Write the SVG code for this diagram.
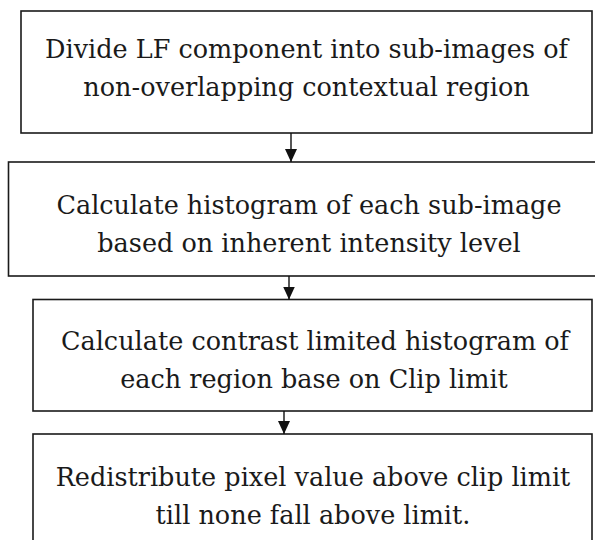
<svg xmlns="http://www.w3.org/2000/svg" width="595" height="540" viewBox="0 0 595 540">
<style>
.box{fill:#fff;stroke:#1a1a1a;stroke-width:1.6}
.t{font-family:"DejaVu Serif","Liberation Serif",serif;font-size:25.5px;fill:#1a1a1a;text-anchor:middle}
.c{stroke:#111;stroke-width:1.4;fill:none}
</style>
<defs>
<marker id="ah" markerWidth="13" markerHeight="12" refX="13" refY="6" orient="auto" markerUnits="userSpaceOnUse">
<path d="M0,0 L13,6 L0,12 Z" fill="#111"/>
</marker>
</defs>
<rect width="595" height="540" fill="#fff"/>
<g id="n1">
<rect class="box" x="21" y="11" width="571" height="122"/>
<text class="t" x="306.5" y="58">Divide LF component into sub-images of</text>
<text class="t" x="306.5" y="96">non-overlapping contextual region</text>
</g>
<g id="n2">
<rect class="box" x="8.5" y="162" width="600" height="114"/>
<text class="t" x="309" y="214">Calculate histogram of each sub-image</text>
<text class="t" x="309" y="252">based on inherent intensity level</text>
</g>
<g id="n3">
<rect class="box" x="33" y="299.5" width="559" height="111.5"/>
<text class="t" x="315" y="350">Calculate contrast limited histogram of</text>
<text class="t" x="314" y="388">each region base on Clip limit</text>
</g>
<g id="n4">
<rect class="box" x="33" y="434" width="559" height="120"/>
<text class="t" x="313" y="486">Redistribute pixel value above clip limit</text>
<text class="t" x="313" y="524">till none fall above limit.</text>
</g>
<g id="connectors">
<line class="c" x1="291" y1="133" x2="291" y2="162" marker-end="url(#ah)"/>
<line class="c" x1="289" y1="276" x2="289" y2="299.5" marker-end="url(#ah)"/>
<line class="c" x1="284" y1="411" x2="284" y2="434" marker-end="url(#ah)"/>
</g>
</svg>
